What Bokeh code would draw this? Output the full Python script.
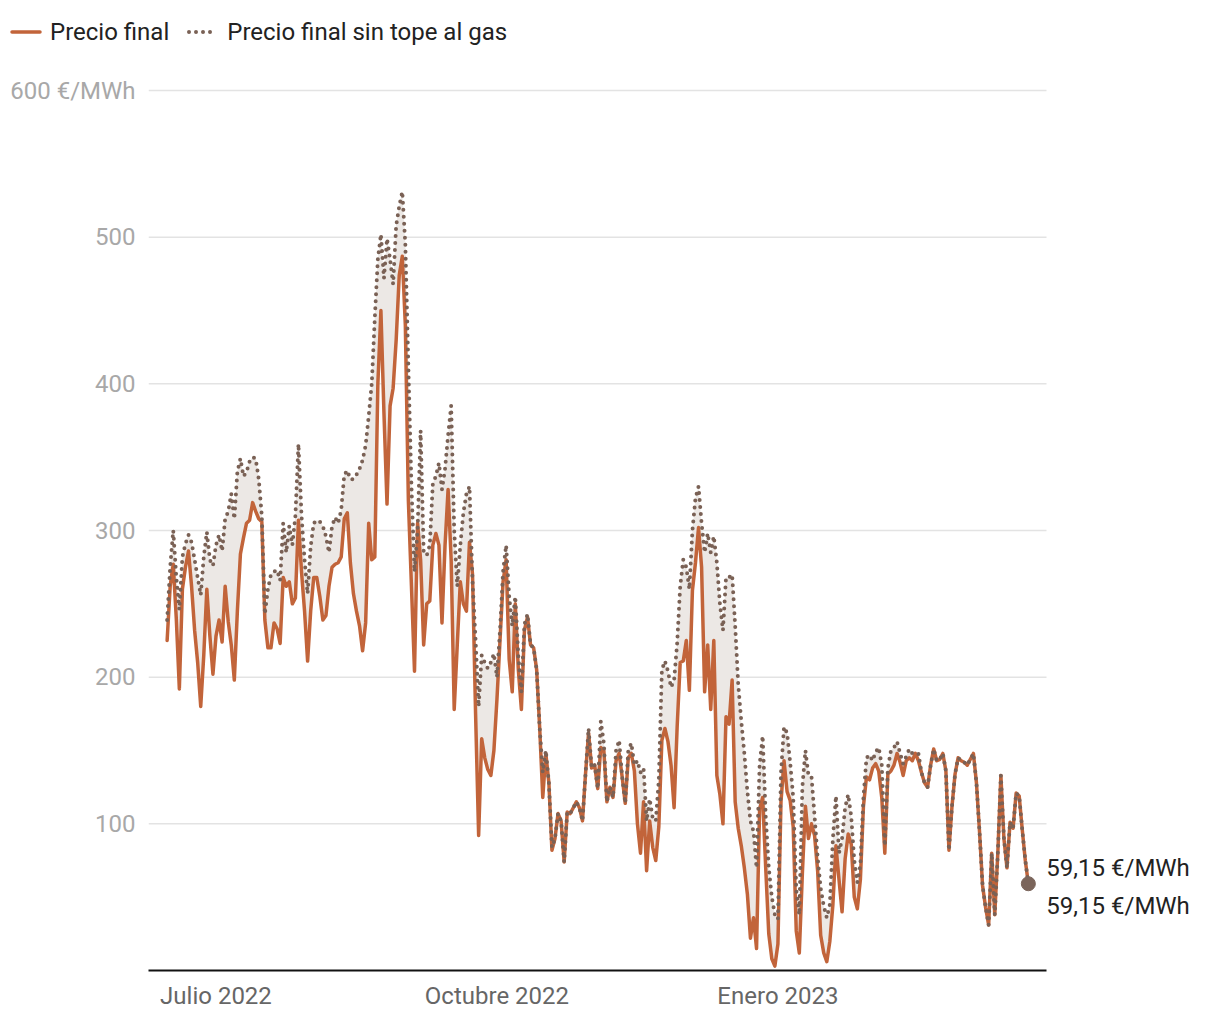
import numpy as np
import pandas as pd
from bokeh.plotting import figure
from bokeh.layouts import column
from bokeh.models import Range1d, FixedTicker, Label, Div
from bokeh.embed import file_html
from bokeh.resources import INLINE

start_date = "2022-06-15"

precio_final = [
    225, 262, 277, 240, 192, 260, 275, 286, 262, 232,
    210, 180, 215, 260, 228, 202, 228, 239, 224, 262,
    238, 222, 198, 245, 284, 295, 305, 307, 319, 313,
    308, 306, 239, 220, 220, 237, 233, 223, 268, 262,
    265, 250, 254, 307, 272, 245, 211, 245, 268, 268,
    255, 239, 242, 262, 275, 277, 278, 282, 308, 312,
    278, 257, 245, 235, 218, 237, 305, 280, 282, 400,
    450, 380, 318, 385, 397, 430, 474, 487, 440, 320,
    262, 204, 305, 280, 222, 250, 252, 290, 298, 290,
    237, 290, 328, 280, 178, 222, 265, 250, 245, 292,
    270, 175, 92, 158, 145, 137, 133, 150, 185, 225,
    265, 280, 212, 190, 250, 205, 178, 232, 241, 222,
    220, 205, 165, 118, 148, 128, 82, 90, 107, 102,
    74, 108, 107, 111, 115, 111, 102, 134, 162, 138,
    140, 124, 152, 150, 115, 125, 118, 143, 148, 132,
    114, 145, 148, 136, 100, 80, 115, 68, 102, 84,
    75, 98, 157, 165, 156, 140, 111, 166, 210, 211,
    225, 191, 259, 278, 302, 275, 190, 222, 178, 225,
    133, 120, 100, 173, 168, 198, 115, 97, 85, 70,
    52, 22, 36, 15, 110, 118, 70, 25, 8, 3,
    18, 115, 143, 122, 116, 98, 27, 12, 66, 112,
    90, 100, 92, 68, 24, 12, 6, 20, 45, 85,
    62, 40, 76, 93, 86, 50, 42, 62, 112, 132,
    130, 138, 141, 136, 118, 80, 134, 136, 140, 148,
    142, 133, 143, 145, 143, 148, 143, 135, 128, 125,
    140, 151, 143, 144, 148, 136, 82, 112, 134, 145,
    143, 142, 140, 144, 148, 128, 95, 58, 43, 31,
    80, 38, 80, 133, 90, 70, 101, 97, 121, 119,
    96, 75, 59.15,
]

precio_sin_tope = [
    239, 275, 300, 268, 246, 282, 291, 297, 292, 280,
    268, 256, 282, 299, 280, 276, 290, 297, 286, 308,
    313, 325, 308, 340, 349, 337, 340, 347, 350, 349,
    335, 310, 243, 260, 270, 272, 273, 266, 305, 285,
    303, 290, 310, 359, 310, 280, 257, 289, 305, 307,
    306, 303, 296, 285, 303, 309, 305, 314, 338, 341,
    335, 335, 338, 342, 348, 358, 378, 400, 445, 485,
    502, 472, 499, 485, 468, 508, 521, 531, 495, 410,
    330, 272, 300, 368, 286, 283, 290, 332, 337, 346,
    328, 342, 365, 385, 300, 262, 290, 312, 325, 330,
    265, 225, 180, 215, 210, 206, 210, 216, 200, 232,
    272, 290, 255, 235, 255, 214, 190, 236, 243, 222,
    220, 205, 165, 135, 150, 128, 84, 90, 107, 102,
    74, 108, 107, 111, 115, 111, 102, 134, 165, 138,
    140, 124, 170, 155, 115, 125, 118, 150, 157, 132,
    114, 150, 155, 140, 143, 135, 138, 102, 117, 104,
    102, 130, 205, 211, 204, 193, 198, 223, 262, 280,
    275, 260, 300, 322, 330, 305, 285, 298, 285, 296,
    278, 250, 232, 268, 268, 270, 235, 195, 170, 148,
    122, 102, 95, 70, 140, 160, 105, 70, 50, 38,
    35, 135, 166, 162, 142, 118, 55, 38, 125, 150,
    133, 132, 105, 77, 56, 44, 36, 45, 90, 119,
    80, 90, 111, 120, 105, 75, 60, 72, 118, 145,
    147, 143, 149, 152, 140, 85, 138, 150, 152, 156,
    148, 141, 146, 151, 148, 148, 148, 135, 128, 125,
    140, 151, 143, 144, 148, 136, 82, 112, 134, 145,
    143, 142, 140, 144, 148, 128, 95, 58, 43, 31,
    80, 38, 80, 133, 90, 70, 101, 97, 121, 119,
    96, 75, 59.15,
]

tick_dates = ["2022-07-01", "2022-10-01", "2023-01-01"]
tick_labels = ["Julio 2022", "Octubre 2022", "Enero 2023"]
y_ticks = [100, 200, 300, 400, 500, 600]
y_unit = "€/MWh"
series_names = ["Precio final", "Precio final sin tope al gas"]

FONT = "Roboto"
FS = "24px"
C_FINAL = "#c2643a"
C_TOPE = "#7a6155"
C_FILL = "#ece8e5"
C_GRID = "#e3e3e3"

dates = pd.date_range(start_date, periods=len(precio_final), freq="D")
day = np.asarray((dates - dates[0]).days, dtype=float)
final = np.array(precio_final, dtype=float)
tope = np.array(precio_sin_tope, dtype=float)
tick_x = [int((pd.Timestamp(d) - dates[0]).days) for d in tick_dates]

# ---- layout constants (page pixels) ----
W = 1215
LEG_H = 64                         # legend strip on top
MAIN_H = 954                       # main figure height
FRAME_L = 148                      # left edge of plotting area
GRID_R = 1046                      # where grid/axis end
AXIS_Y = 970 - LEG_H               # y of value 0 inside main figure
BOTTOM = MAIN_H - AXIS_Y
PX_PER_UNIT = (970 - 90) / 600.0
PX_PER_DAY = 3.054
X_START = -6.1
x_end = X_START + (W - FRAME_L) / PX_PER_DAY
x_grid_end = X_START + (GRID_R - FRAME_L) / PX_PER_DAY
y_end = AXIS_Y / PX_PER_UNIT

# ---- main chart ----
p = figure(
    width=W, height=MAIN_H,
    x_range=Range1d(X_START, x_end), y_range=Range1d(0, y_end),
    output_backend="svg", toolbar_location=None,
    min_border_left=FRAME_L, min_border_right=0,
    min_border_top=0, min_border_bottom=BOTTOM,
)
p.outline_line_color = None
p.background_fill_color = "white"
p.border_fill_color = "white"

p.xaxis.ticker = FixedTicker(ticks=tick_x)
p.xaxis.major_label_overrides = {t: l for t, l in zip(tick_x, tick_labels)}
p.xaxis.bounds = (X_START, x_grid_end)
p.xaxis.axis_line_color = "#111111"
p.xaxis.axis_line_width = 2
p.xaxis.major_tick_line_color = None
p.xaxis.minor_tick_line_color = None
p.xaxis.major_tick_out = 0
p.xaxis.major_tick_in = 0
p.xaxis.major_label_text_font = FONT
p.xaxis.major_label_text_font_size = FS
p.xaxis.major_label_text_color = "#666666"
p.xaxis.major_label_standoff = 11

p.yaxis.ticker = FixedTicker(ticks=y_ticks)
p.yaxis.major_label_overrides = {y_ticks[-1]: f"{y_ticks[-1]} {y_unit}"}
p.yaxis.axis_line_color = None
p.yaxis.major_tick_line_color = None
p.yaxis.minor_tick_line_color = None
p.yaxis.major_tick_out = 0
p.yaxis.major_tick_in = 0
p.yaxis.major_label_text_font = FONT
p.yaxis.major_label_text_font_size = FS
p.yaxis.major_label_text_color = "#a8a8a8"
p.yaxis.major_label_standoff = 13

p.xgrid.grid_line_color = None
p.ygrid.grid_line_color = None
# horizontal grid lines at the y ticks, ending where the x axis ends
p.segment(x0=[X_START] * len(y_ticks), x1=[x_grid_end] * len(y_ticks),
          y0=y_ticks, y1=y_ticks, line_color=C_GRID, line_width=1.5)

p.varea(x=day, y1=final, y2=tope, fill_color=C_FILL, fill_alpha=1.0)
p.line(day, final, line_color=C_FINAL, line_width=3.5,
       line_join="round", line_cap="round")
p.line(day, tope, line_color=C_TOPE, line_width=4,
       line_dash="0 7", line_cap="round", line_join="round")
p.scatter(day[-1:], tope[-1:], size=14, fill_color="#7b655b", line_color="#7b655b")

fmt = lambda v: f"{v:.2f}".replace(".", ",") + f" {y_unit}"
for val, yoff in ((tope[-1], 16), (final[-1], -22)):
    p.add_layout(Label(
        x=day[-1], y=val, x_offset=18, y_offset=yoff, text=fmt(val),
        text_baseline="middle", text_align="left",
        text_font=FONT, text_font_size=FS, text_color="#222222",
    ))

# ---- legend strip ----
swatch_solid = (
    f'<svg width="32" height="10" style="display:block">'
    f'<line x1="2" y1="5" x2="30" y2="5" stroke="{C_FINAL}" stroke-width="3.5" '
    f'stroke-linecap="round"/></svg>'
)
swatch_dotted = (
    f'<svg width="30" height="10" style="display:block">'
    f'<line x1="2" y1="5" x2="26" y2="5" stroke="{C_TOPE}" stroke-width="4" '
    f'stroke-dasharray="0 7" stroke-linecap="round"/></svg>'
)
legend_html = (
    f'<div style="display:flex;align-items:center;height:{LEG_H}px;'
    f'padding-left:10px;font-family:{FONT};font-size:{FS};color:#222222;'
    f'white-space:nowrap;">'
    f'{swatch_solid}<span style="margin-left:8px;margin-right:18px;">{series_names[0]}</span>'
    f'{swatch_dotted}<span style="margin-left:10px;">{series_names[1]}</span>'
    f'</div>'
)
legend_div = Div(text=legend_html, width=W, height=LEG_H, margin=(0, 0, 0, 0))

layout = column(legend_div, p, spacing=0)
open("out.html", "w").write(file_html(layout, INLINE))
